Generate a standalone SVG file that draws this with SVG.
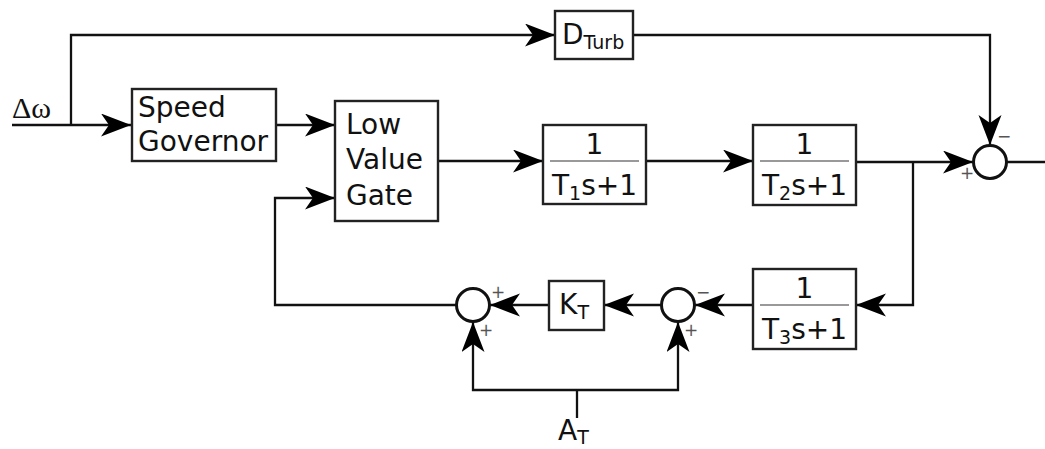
<svg xmlns="http://www.w3.org/2000/svg" width="1045" height="449" viewBox="0 0 1045 449">
<style>
.box{fill:#fff;stroke:#222;stroke-width:2.4}
.sum{fill:#fff;stroke:#111;stroke-width:3}
.w{fill:none;stroke:#111;stroke-width:2.3}
.t{font-family:"DejaVu Sans",Verdana,sans-serif;font-size:28px;fill:#111}
.s{font-family:"DejaVu Sans",sans-serif;font-size:19px;fill:#111}
.sg{font-family:"DejaVu Sans",sans-serif;font-size:17px;fill:#555}
.fr{stroke:#999;stroke-width:2}
.gr{font-family:"Liberation Serif","Times New Roman",serif;font-size:30px;fill:#111}
</style>
<defs>
<marker id="a" markerUnits="userSpaceOnUse" markerWidth="31" markerHeight="24" refX="30" refY="11.5" orient="auto">
<path d="M0,0 L30,11.5 L0,23 L8,11.5 Z" fill="#000"/>
</marker>
</defs>
<g id="connectors">
<path class="w" d="M12,125 H131" marker-end="url(#a)"/>
<path class="w" d="M71,125 V35 H555" marker-end="url(#a)"/>
<path class="w" d="M633,35 H990 V145" marker-end="url(#a)"/>
<path class="w" d="M276,125 H335" marker-end="url(#a)"/>
<path class="w" d="M438,161 H543" marker-end="url(#a)"/>
<path class="w" d="M646,161 H753" marker-end="url(#a)"/>
<path class="w" d="M856,162 H973" marker-end="url(#a)"/>
<path class="w" d="M1007,162 H1045"/>
<path class="w" d="M913,162 V305 H856" marker-end="url(#a)"/>
<path class="w" d="M753,305 H695" marker-end="url(#a)"/>
<path class="w" d="M661,305 H604" marker-end="url(#a)"/>
<path class="w" d="M549,305 H490" marker-end="url(#a)"/>
<path class="w" d="M456,305 H275 V198 H335" marker-end="url(#a)"/>
<path class="w" d="M577,418 V390"/>
<path class="w" d="M577,390 H473 V322" marker-end="url(#a)"/>
<path class="w" d="M577,390 H678 V322" marker-end="url(#a)"/>
</g>
<g id="input"><text class="gr" x="12" y="118">Δω</text></g>
<g id="dturb">
<rect class="box" x="555" y="11" width="78" height="48"/>
<text class="t" x="562" y="44">D<tspan class="s" dy="5">Turb</tspan></text>
</g>
<g id="speed-governor">
<rect class="box" x="132" y="89" width="144" height="72"/>
<text class="t" x="138" y="117">Speed</text>
<text class="t" x="138" y="151">Governor</text>
</g>
<g id="low-value-gate">
<rect class="box" x="335" y="101" width="103" height="120"/>
<text class="t" x="346" y="134">Low</text>
<text class="t" x="346" y="169">Value</text>
<text class="t" x="346" y="205">Gate</text>
</g>
<g id="t1">
<rect class="box" x="543" y="125" width="103" height="79"/>
<line class="fr" x1="550" y1="161" x2="639" y2="161"/>
<text class="t" x="594.5" y="154" text-anchor="middle">1</text>
<text class="t" x="594.5" y="195" text-anchor="middle">T<tspan class="s" dy="5">1</tspan><tspan dy="-5">s+1</tspan></text>
</g>
<g id="t2">
<rect class="box" x="753" y="125" width="103" height="80"/>
<line class="fr" x1="760" y1="161" x2="849" y2="161"/>
<text class="t" x="804.5" y="154" text-anchor="middle">1</text>
<text class="t" x="804.5" y="195" text-anchor="middle">T<tspan class="s" dy="5">2</tspan><tspan dy="-5">s+1</tspan></text>
</g>
<g id="t3">
<rect class="box" x="753" y="269" width="103" height="80"/>
<line class="fr" x1="760" y1="305" x2="849" y2="305"/>
<text class="t" x="804.5" y="298" text-anchor="middle">1</text>
<text class="t" x="804.5" y="339" text-anchor="middle">T<tspan class="s" dy="5">3</tspan><tspan dy="-5">s+1</tspan></text>
</g>
<g id="kt">
<rect class="box" x="549" y="281" width="55" height="49"/>
<text class="t" x="559" y="314">K<tspan class="s" dy="5">T</tspan></text>
</g>
<g id="sum1">
<circle class="sum" cx="990" cy="162" r="16.5"/>
<text class="sg" x="997" y="142">−</text>
<text class="sg" x="960" y="179">+</text>
</g>
<g id="sum2">
<circle class="sum" cx="678" cy="305" r="16.5"/>
<text class="sg" x="696" y="298">−</text>
<text class="sg" x="684" y="336">+</text>
</g>
<g id="sum3">
<circle class="sum" cx="473" cy="305" r="16.5"/>
<text class="sg" x="491" y="298">+</text>
<text class="sg" x="479" y="336">+</text>
</g>
<g id="at">
<text class="t" x="558" y="440">A<tspan class="s" dy="4">T</tspan></text>
</g>
</svg>
